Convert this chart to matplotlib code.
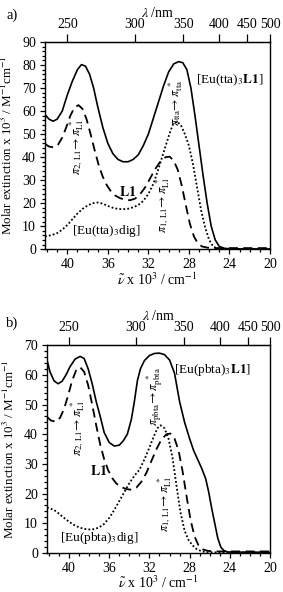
import matplotlib
matplotlib.use("Agg")
import matplotlib.pyplot as plt
from matplotlib.ticker import MultipleLocator

plt.rcParams["font.family"] = ["Liberation Serif", "DejaVu Serif"]
plt.rcParams["mathtext.fontset"] = "stix"

# L1 (same ligand in both panels), x in 10^3 cm-1
l1_x = [42.2, 41.8, 41.3, 40.9, 40.5, 40.1, 39.7, 39.3, 38.9, 38.5, 38.1, 37.7,
        37.3, 36.9, 36.5, 36.1, 35.7, 35.3, 34.8, 34.3, 33.8, 33.3, 32.8, 32.3,
        31.8, 31.3, 30.8, 30.3, 29.9, 29.5, 29.1, 28.7, 28.3, 27.9, 27.5, 27.1,
        26.7, 26.2, 25.5, 20.0]
l1_y = [45.8, 44.6, 44.2, 45.5, 48.5, 53, 58, 61.5, 62.6, 61, 56.5, 50,
        43, 36.5, 31.5, 27.8, 25.2, 23.4, 22.2, 21.5, 21.3, 22, 24, 27,
        31, 35, 38.2, 40, 40.2, 38.5, 34.5, 27.5, 19, 11, 5.5, 2.4,
        1.2, 0.7, 0.5, 0.5]

# panel a: [Eu(tta)3L1]
tta_l1_x = [42.2, 41.8, 41.4, 41.0, 40.5, 40.0, 39.5, 39.0, 38.6, 38.2, 37.8, 37.4,
            37.0, 36.5, 36.0, 35.5, 35.0, 34.5, 34.0, 33.5, 33.0, 32.5, 32.0, 31.5,
            31.0, 30.5, 30.0, 29.5, 29.0, 28.6, 28.2, 27.8, 27.4, 27.0, 26.6, 26.2,
            25.8, 25.4, 25.0, 24.5, 24.0, 20.0]
tta_l1_y = [58.5, 56.5, 55.6, 56.5, 60, 67, 73, 78, 80.2, 79.5, 76, 70,
            62, 53, 46, 41.5, 39, 38, 38, 39, 41, 45, 50, 57,
            64, 71, 77, 80.5, 81.5, 81, 78, 70, 58, 45, 32, 20,
            10, 4, 1.2, 0.4, 0.2, 0.1]

# panel a: [Eu(tta)3dig]
tta_dig_x = [42.2, 41.5, 41.0, 40.5, 40.0, 39.5, 39.0, 38.5, 38.0, 37.5, 37.0, 36.5,
             36.0, 35.5, 35.0, 34.5, 34.0, 33.5, 33.0, 32.5, 32.0, 31.5, 31.0, 30.5,
             30.0, 29.6, 29.2, 28.8, 28.4, 28.0, 27.6, 27.2, 26.8, 26.4, 26.0, 25.6,
             25.2, 24.8, 20.0]
tta_dig_y = [5.5, 6.2, 7, 8.5, 10.5, 13, 15.5, 17.5, 19, 20, 20.3, 19.8,
             18.8, 18, 17.5, 17.4, 17.6, 18.2, 19.2, 21, 24, 28.5, 35, 42,
             49, 54, 55.5, 54, 50, 45, 37, 27, 17, 9.5, 4, 1.2,
             0.3, 0.1, 0.1]

# panel b: [Eu(pbta)3L1]
pbta_l1_x = [42.2, 41.9, 41.5, 41.1, 40.7, 40.3, 39.9, 39.4, 38.9, 38.5, 38.1, 37.7,
             37.3, 36.9, 36.5, 36.0, 35.5, 35.0, 34.6, 34.2, 33.8, 33.5, 33.2, 32.9,
             32.5, 32.0, 31.5, 31.0, 30.5, 30.0, 29.5, 29.0, 28.5, 28.0, 27.6, 27.2,
             26.8, 26.4, 26.1, 25.8, 25.5, 25.2, 24.9, 24.6, 24.2, 20.0]
pbta_l1_y = [65, 61, 58, 57, 57.8, 60, 62.8, 65.3, 66.2, 65.5, 62, 57,
             51, 46, 40.5, 37.2, 36, 36.3, 37.8, 40, 45, 51, 58, 62,
             64.8, 66.5, 67.2, 67.3, 66.8, 65, 60.5, 51, 44, 38.5, 34.5, 31.5,
             28.5, 25, 20.5, 15, 10, 5, 2, 0.8, 0.3, 0.2]

# panel b: [Eu(pbta)3dig]
pbta_dig_x = [42.2, 41.5, 41.0, 40.5, 40.0, 39.5, 39.0, 38.5, 38.0, 37.5, 37.0, 36.5,
              36.0, 35.5, 35.0, 34.5, 34.0, 33.5, 33.0, 32.5, 32.0, 31.6, 31.2, 30.9,
              30.5, 30.1, 29.7, 29.3, 28.9, 28.5, 28.1, 27.7, 27.3, 26.9, 26.5, 26.0,
              20.0]
pbta_dig_y = [15.3, 14.5, 13.2, 11.8, 10.5, 9.4, 8.6, 8.1, 7.9, 8, 8.6, 9.8,
              11.8, 14.5, 17.5, 20.5, 23.5, 26, 28, 31.5, 35.5, 39, 42, 43,
              42, 38.5, 32, 22.5, 13.5, 7.5, 4.3, 2.5, 1.3, 0.7, 0.3, 0.2,
              0.1]

lam_ticks = [250, 300, 350, 400, 450, 500]
YLABEL = r"Molar extinction x 10$^3$ / M$^{-1}$cm$^{-1}$"
XLABEL = r"$\tilde{\nu}$ x 10$^3$ / cm$^{-1}$"
FS = 10


def nu_to_lam(x):
    return 1e4 / x


def style_axes(ax, ymax):
    ax.set_xlim(42.2, 20)
    ax.set_ylim(0, ymax)
    ax.xaxis.set_major_locator(MultipleLocator(4))
    ax.xaxis.set_minor_locator(MultipleLocator(1))
    ax.yaxis.set_major_locator(MultipleLocator(10))
    ax.yaxis.set_minor_locator(MultipleLocator(2))
    ax.tick_params(axis="both", which="both", direction="out", labelsize=FS,
                   width=0.9, top=False, right=False)
    ax.tick_params(axis="both", which="major", length=3.5)
    ax.tick_params(axis="x", which="major", pad=3)
    ax.tick_params(axis="y", which="major", pad=3)
    ax.tick_params(axis="both", which="minor", length=2)
    for s in ax.spines.values():
        s.set_linewidth(1.0)
    ax.set_xlabel(XLABEL, fontsize=FS, labelpad=0)
    ax.set_ylabel(YLABEL, fontsize=9.4)
    ax.yaxis.set_label_coords(-0.135, 0.5)
    sec = ax.secondary_xaxis("top", functions=(nu_to_lam, nu_to_lam))
    sec.set_xticks(lam_ticks)
    sec.tick_params(direction="out", length=6, width=0.9, labelsize=FS, pad=2)
    sec.xaxis.set_minor_locator(plt.NullLocator())
    sec.set_xlabel(r"$\lambda$ /nm", fontsize=FS, labelpad=1)


fig = plt.figure(figsize=(2.83, 5.92), dpi=100)
ax1 = fig.add_axes([0.159, 0.579, 0.795, 0.350])
ax2 = fig.add_axes([0.166, 0.066, 0.788, 0.351])

# panel a
ax1.plot(tta_l1_x, tta_l1_y, color="black", lw=1.2)
ax1.plot(l1_x, l1_y, color="black", lw=1.3, ls=(0, (5, 3)))
ax1.plot(tta_dig_x, tta_dig_y, color="black", lw=1.3, ls=(0, (1, 1.2)))
style_axes(ax1, 90)

ax1.text(23.97, 73.5, r"[Eu(tta)$_3$$\mathbf{L1}$]", fontsize=9.5, ha="center", va="center")
ax1.text(36.1, 7.8, r"[Eu(tta)$_3$dig]", fontsize=9.5, ha="center", va="center")
ax1.text(34.0, 24.8, r"$\mathbf{L1}$", fontsize=10, ha="center", va="center")
ax1.text(39.05, 44.3, r"$\pi_{2,\,\mathrm{L1}}\!\rightarrow\pi_{\mathrm{L1}}^{\ *}$",
         fontsize=9, rotation=90, ha="center", va="center")
ax1.text(29.3, 63.5, r"$\pi_{\mathrm{tta}}\!\rightarrow\pi_{\mathrm{tta}}^{\ *}$",
         fontsize=9, rotation=90, ha="center", va="center")
ax1.text(30.57, 19.5, r"$\pi_{1,\,\mathrm{L1}}\!\rightarrow\pi_{\mathrm{L1}}^{\ *}$",
         fontsize=9, rotation=90, ha="center", va="center")

# panel b
ax2.plot(pbta_l1_x, pbta_l1_y, color="black", lw=1.2)
ax2.plot(l1_x, l1_y, color="black", lw=1.3, ls=(0, (5, 3)))
ax2.plot(pbta_dig_x, pbta_dig_y, color="black", lw=1.3, ls=(0, (1, 1.2)))
style_axes(ax2, 70)

ax2.text(25.7, 61.5, r"[Eu(pbta)$_3$$\mathbf{L1}$]", fontsize=9.5, ha="center", va="center")
ax2.text(37.0, 5.0, r"[Eu(pbta)$_3$dig]", fontsize=9.5, ha="center", va="center")
ax2.text(37.1, 27.5, r"$\mathbf{L1}$", fontsize=10, ha="center", va="center")
ax2.text(39.1, 42.1, r"$\pi_{2,\,\mathrm{L1}}\!\rightarrow\pi_{\mathrm{L1}}^{\ *}$",
         fontsize=9, rotation=90, ha="center", va="center")
ax2.text(31.45, 52.8, r"$\pi_{\mathrm{pbta}}\!\rightarrow\pi_{\mathrm{pbta}}^{\ *}$",
         fontsize=9, rotation=90, ha="center", va="center")
ax2.text(30.46, 16.4, r"$\pi_{1,\,\mathrm{L1}}\!\rightarrow\pi_{\mathrm{L1}}^{\ *}$",
         fontsize=9, rotation=90, ha="center", va="center")

fig.text(0.042, 0.975, "a)", fontsize=10.5, ha="center", va="center")
fig.text(0.042, 0.454, "b)", fontsize=10.5, ha="center", va="center")

fig.savefig("out.png", dpi=100)
